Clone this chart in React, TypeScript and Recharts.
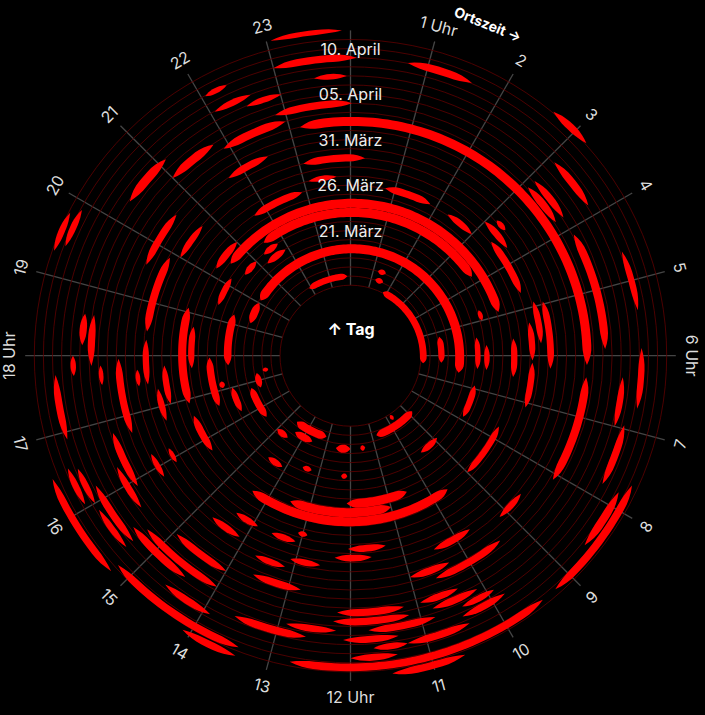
import React from "react";
import { RadarChart, Radar, PolarGrid, PolarAngleAxis, PolarRadiusAxis } from "recharts";

// one spiral turn per day, 15. März .. 11. April
const dayLabels = [
  "15. März", "16. März", "17. März", "18. März", "19. März", "20. März", "21. März",
  "22. März", "23. März", "24. März", "25. März", "26. März", "27. März", "28. März",
  "29. März", "30. März", "31. März", "01. April", "02. April", "03. April", "04. April",
  "05. April", "06. April", "07. April", "08. April", "09. April", "10. April", "11. April",
];
const labeledDays = [6, 11, 16, 21, 26];
const dayTicks = dayLabels.map((_, i) => i);

const hours = Array.from({ length: 24 }, (_, i) => i);
const hourLabels = [
  "", "1 Uhr", "2", "3", "4", "5", "6 Uhr", "7", "8", "9", "10", "11",
  "12 Uhr", "13", "14", "15", "16", "17", "18 Uhr", "19", "20", "21", "22", "23",
];

// [day, start hour, end hour, width 0..1]; end > 24 runs into the next day
type Seg = [number, number, number, number];

const week1: Seg[] = [
  [0, 1.8, 6.4, 0.75], [0, 9.65, 9.85, 0.6], [0, 21.9, 23.85, 0.7],
  [1, 1.2, 1.6, 0.6], [1, 8.8, 10.8, 0.85], [1, 13.1, 14.6, 0.9], [1, 17.28, 17.48, 0.6],
  [2, 1.2, 1.55, 0.6], [2, 5.2, 6.3, 0.7], [2, 11.4, 11.6, 0.6], [2, 12.0, 12.6, 0.9],
  [2, 13.6, 14.4, 0.8], [2, 16.7, 17.3, 0.7],
  [3, 14.5, 15.0, 0.7], [3, 15.6, 16.8, 0.8], [3, 19.2, 20.0, 0.85], [3, 20.1, 30.6, 1.0],
  [5, 8.9, 9.6, 0.7], [5, 12.1, 12.3, 0.6], [5, 13.25, 13.55, 0.6], [5, 16.2, 17.0, 0.7],
  [5, 17.7, 19.3, 0.85], [5, 21.2, 21.9, 0.75],
  [6, 5.45, 6.4, 0.6], [6, 6.9, 7.9, 0.7], [6, 14.1, 14.6, 0.7], [6, 17.05, 17.25, 0.6],
  [6, 20.5, 21.0, 0.7], [6, 21.3, 21.8, 0.7],
];

const week2: Seg[] = [
  [7, 4.7, 5.0, 0.5], [7, 5.7, 6.4, 0.6], [7, 16.6, 17.95, 0.8], [7, 19.4, 20.2, 0.7],
  [7, 21.5, 27.8, 1.0],
  [8, 10.5, 12.1, 1.0], [8, 20.5, 28.9, 1.0],
  [9, 11.0, 13.5, 1.0], [9, 17.7, 18.7, 0.7], [9, 20.2, 21.0, 0.8],
  [10, 5.6, 6.5, 0.7], [10, 7.7, 9.0, 0.7], [10, 9.6, 14.4, 1.0], [10, 15.7, 16.6, 0.8],
  [10, 16.9, 19.1, 0.9], [10, 21.7, 22.9, 0.8],
  [11, 0.78, 1.85, 0.8], [11, 2.3, 3.0, 0.7], [11, 23.1, 23.7, 0.6],
  [12, 3.4, 4.65, 0.8], [12, 5.3, 6.1, 0.7], [12, 6.15, 7.1, 0.7], [12, 12.9, 13.1, 0.6],
  [12, 17.0, 17.8, 0.7],
  [13, 3.0, 3.7, 0.75], [13, 4.9, 5.75, 0.7], [13, 11.3, 12.05, 0.75], [13, 13.1, 13.6, 0.7],
  [13, 13.9, 14.4, 0.7], [13, 16.7, 17.35, 0.7], [13, 20.0, 20.75, 0.7], [13, 23.08, 24.28, 0.8],
];

const week3: Seg[] = [
  [14, 3.15, 3.4, 0.6], [14, 4.95, 6.25, 0.75], [14, 11.6, 12.3, 0.75], [14, 15.9, 16.2, 0.5],
  [14, 17.46, 18.3, 0.7], [14, 18.45, 19.9, 0.85],
  [15, 9.7, 10.45, 0.8], [15, 12.55, 13.1, 0.7], [15, 14.1, 14.7, 0.75], [15, 17.45, 17.75, 0.5],
  [15, 21.7, 22.5, 0.8],
  [16, 8.6, 9.15, 0.7], [16, 13.15, 13.7, 0.7], [16, 15.8, 16.25, 0.6], [16, 19.6, 20.6, 0.8],
  [17, 10.3, 11.0, 0.8], [17, 16.7, 17.95, 0.8], [17, 23.17, 30.15, 1.0],
  [18, 6.35, 8.1, 0.9], [18, 9.4, 10.6, 0.8], [18, 12.8, 13.6, 0.8], [18, 21.9, 22.96, 0.9],
  [19, 3.1, 3.8, 0.85], [19, 14.0, 14.95, 0.8], [19, 15.9, 16.8, 0.8], [19, 17.55, 17.85, 0.5],
  [19, 21.0, 21.8, 0.95], [19, 22.84, 24.02, 0.8],
  [20, 3.1, 3.8, 0.8], [20, 4.1, 5.9, 0.9], [20, 10.35, 10.95, 0.75], [20, 11.2, 12.2, 0.8],
  [20, 15.6, 16.3, 0.75], [20, 17.85, 18.6, 0.8],
];

const week4: Seg[] = [
  [21, 10.1, 10.8, 0.8], [21, 11.15, 12.25, 0.8], [21, 14.0, 15.3, 0.8], [21, 18.15, 18.6, 0.8],
  [21, 20.33, 21.12, 1.0], [21, 22.49, 23.01, 0.65],
  [22, 6.3, 7.0, 0.7], [22, 9.9, 10.4, 0.7], [22, 10.8, 11.75, 0.8], [22, 12.2, 12.9, 0.75],
  [22, 14.45, 15.45, 0.85], [22, 17.72, 18.0, 0.6], [22, 22.06, 22.6, 0.7], [22, 23.5, 23.95, 0.6],
  [23, 3.1, 3.85, 0.85], [23, 6.95, 7.8, 0.8], [23, 9.8, 10.45, 0.8], [23, 11.35, 12.1, 0.75],
  [23, 12.6, 13.6, 0.85], [23, 15.3, 16.2, 0.8],
  [24, 4.6, 5.4, 0.7], [24, 5.9, 6.7, 0.7], [24, 10.4, 11.25, 0.8], [24, 11.25, 11.7, 0.7],
  [24, 13.9, 14.6, 0.8], [24, 15.3, 15.9, 0.7], [24, 16.0, 16.5, 0.7], [24, 16.9, 17.75, 0.8],
  [24, 22.05, 22.36, 0.6], [24, 23.0, 24.08, 0.8],
  [25, 0.74, 1.6, 0.85], [25, 7.8, 8.6, 0.9], [25, 11.4, 12.0, 0.75], [25, 16.05, 16.55, 0.7],
  [25, 19.4, 19.9, 0.7],
  [26, 7.65, 9.25, 0.85], [26, 9.45, 12.75, 0.85], [26, 13.4, 15.2, 0.85], [26, 19.3, 19.8, 0.7],
  [27, 2.65, 3.2, 0.8], [27, 10.6, 11.5, 0.8], [27, 13.4, 14.1, 0.8], [27, 15.2, 16.5, 0.8],
  [27, 23.05, 23.9, 0.55],
];

const segments: Seg[] = [...week1, ...week2, ...week3, ...week4];

// each segment becomes its start and end point on the spiral (t = day + hour / 24)
const radarData = segments.flatMap(([day, start, end, w], id) => [
  { id, hour: start % 24, t: day + start / 24, w, span: end - start },
  { id, hour: end % 24, t: day + end / 24, w, span: end - start },
]);

const CX = 350.5;
const CY = 355.7;
const MAX_W = 9;
const RED = "#ff0000";
const FONT = "Inter, 'Noto Sans', sans-serif";

const SpiralBands = (props: any) => {
  const pts: any[] = props.points || [];
  const groups = new Map<number, any[]>();
  pts.forEach((p) => {
    const id = p.payload.id;
    if (!groups.has(id)) groups.set(id, []);
    groups.get(id)!.push(p);
  });
  const paths: string[] = [];
  groups.forEach((list) => {
    if (list.length < 2) return;
    const [p0, p1] = list;
    const cx = p0.cx ?? CX;
    const cy = p0.cy ?? CY;
    const a0 = Math.atan2(-(p0.y - cy), p0.x - cx) * 180 / Math.PI;
    const a1raw = Math.atan2(-(p1.y - cy), p1.x - cx) * 180 / Math.PI;
    const r0 = Math.hypot(p0.x - cx, p0.y - cy);
    const r1 = Math.hypot(p1.x - cx, p1.y - cy);
    let da = a1raw - a0;
    while (da > 0.0001) da -= 360;
    while (da < -360) da += 360;
    const span = p0.payload.span;
    const taper = Math.min(0.3, span * 0.45) / span;
    const half = (p0.payload.w * MAX_W) / 2;
    const n = Math.max(10, Math.ceil(Math.abs(da) / 1.2));
    const outer: string[] = [];
    const inner: string[] = [];
    for (let i = 0; i <= n; i++) {
      const s = i / n;
      let k = 1;
      if (s < taper) k = 1 - Math.pow(1 - s / taper, 2);
      else if (s > 1 - taper) k = 1 - Math.pow(1 - (1 - s) / taper, 2);
      const a = ((a0 + da * s) * Math.PI) / 180;
      const r = r0 + (r1 - r0) * s;
      const ro = r + half * k;
      const ri = r - half * k;
      outer.push(`${(cx + ro * Math.cos(a)).toFixed(2)},${(cy - ro * Math.sin(a)).toFixed(2)}`);
      inner.push(`${(cx + ri * Math.cos(a)).toFixed(2)},${(cy - ri * Math.sin(a)).toFixed(2)}`);
    }
    paths.push(`M${outer.join("L")}L${inner.reverse().join("L")}Z`);
  });
  return (
    <g>
      {paths.map((d, i) => (
        <path key={i} d={d} fill={RED} stroke="none" />
      ))}
    </g>
  );
};

const HourTick = (props: any) => {
  const { x, y, payload } = props;
  const h = payload.value;
  const text = hourLabels[h];
  if (!text) return <g />;
  const deg = h * 15;
  const rot = deg > 90 && deg < 270 ? deg - 180 : deg;
  return (
    <text
      x={x}
      y={y}
      transform={`rotate(${rot} ${x} ${y})`}
      textAnchor="middle"
      dominantBaseline="central"
      fill="#dddddd"
      fontSize={16}
      fontFamily={FONT}
    >
      {text}
    </text>
  );
};

const DayTick = (props: any) => {
  const { x, y, payload } = props;
  const i = payload.value;
  if (!labeledDays.includes(i)) return <g />;
  return (
    <text x={x} y={y} textAnchor="middle" dominantBaseline="central" fill="#eeeeee" fontSize={16} fontFamily={FONT}>
      {dayLabels[i]}
    </text>
  );
};

export default function App() {
  return (
    <div
      style={{
        position: "absolute",
        left: 0,
        top: 0,
        width: 705,
        height: 715,
        background: "#000",
        overflow: "hidden",
        fontFamily: FONT,
      }}
    >
      <RadarChart
        width={705}
        height={715}
        cx={CX}
        cy={CY}
        innerRadius={70.5}
        outerRadius={325.3}
        data={radarData}
        margin={{ top: 0, right: 0, bottom: 0, left: 0 }}
      >
        <PolarGrid gridType="circle" radialLines={true} polarRadius={[]} stroke="#454545" strokeWidth={1.3} />
        <PolarGrid gridType="circle" radialLines={false} stroke="#550000" strokeWidth={0.9} />
        <PolarAngleAxis
          dataKey="hour"
          type="number"
          domain={[0, 24]}
          ticks={hours}
          tick={HourTick}
          tickLine={false}
          axisLine={false}
          tickSize={16}
        />
        <Radar dataKey="t" shape={SpiralBands} isAnimationActive={false} dot={false} />
        <PolarRadiusAxis type="number" domain={[0, 28]} ticks={dayTicks} angle={90} axisLine={false} tick={DayTick} />
      </RadarChart>
      <div
        style={{
          position: "absolute",
          left: 351,
          top: 329,
          transform: "translate(-50%, -50%)",
          color: "#fff",
          fontWeight: 700,
          fontSize: 16,
          whiteSpace: "nowrap",
        }}
      >
        ↑ Tag
      </div>
      <div
        style={{
          position: "absolute",
          left: 488,
          top: 24,
          transform: "translate(-50%, -50%) rotate(22deg)",
          color: "#fff",
          fontWeight: 700,
          fontSize: 14,
          whiteSpace: "nowrap",
        }}
      >
        Ortszeit →
      </div>
    </div>
  );
}
